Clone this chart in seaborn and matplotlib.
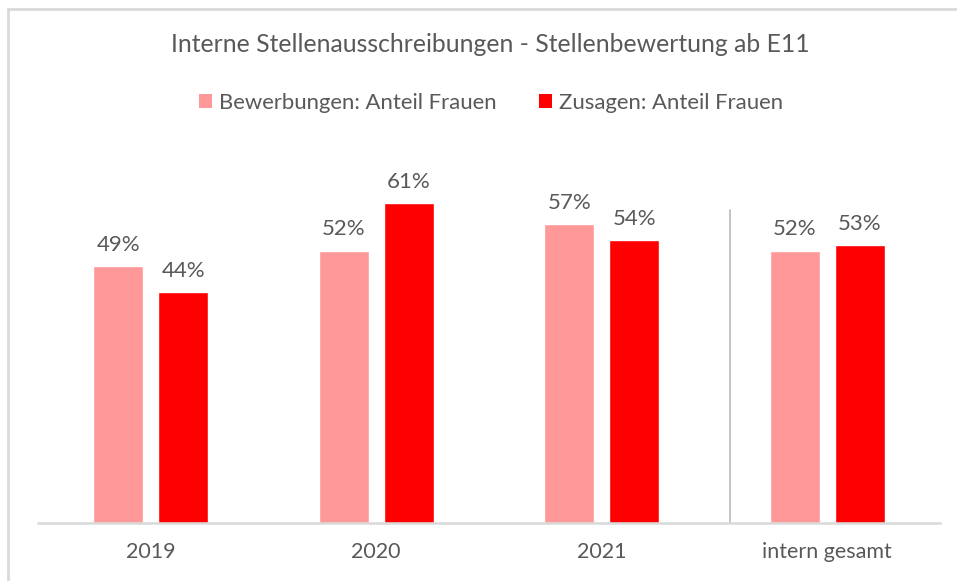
import matplotlib
matplotlib.use("Agg")
import matplotlib.pyplot as plt
from matplotlib.patches import Patch, Rectangle
import seaborn as sns
import pandas as pd

categories = ["2019", "2020", "2021", "intern gesamt"]
bewerbungen = [49, 52, 57, 52]
zusagen = [44, 61, 54, 53]
series_names = ["Bewerbungen: Anteil Frauen", "Zusagen: Anteil Frauen"]
title = "Interne Stellenausschreibungen - Stellenbewertung ab E11"

colors = ["#FF9999", "#FF0000"]
text_color = "#595959"

df = pd.DataFrame({
    "Kategorie": categories * 2,
    "Serie": [series_names[0]] * 4 + [series_names[1]] * 4,
    "Wert": bewerbungen + zusagen,
})

sns.set_style("white")
plt.rcParams["font.family"] = ["Lato", "DejaVu Sans"]

W, H = 957, 581
fig = plt.figure(figsize=(W / 100, H / 100), dpi=100)
ax_left, ax_right = 38 / W, 940 / W
ax_bottom = 1 - 523 / H
ax_top = 1 - (523 - 70 * 5.24) / H
ax = fig.add_axes([ax_left, ax_bottom, ax_right - ax_left, ax_top - ax_bottom])

sns.barplot(data=df, x="Kategorie", y="Wert", hue="Serie", palette=colors,
            width=0.576, gap=0.23, ax=ax, legend=False, saturation=1)

ax.set_xlim(-0.5, 3.5)
ax.set_ylim(0, 70)
ax.set_xlabel("")
ax.set_ylabel("")
ax.set_yticks([])
for s in ["top", "right", "left"]:
    ax.spines[s].set_visible(False)
ax.spines["bottom"].set_color("#d9d9d9")
ax.spines["bottom"].set_linewidth(1.8)
ax.tick_params(axis="x", length=0, pad=14, labelsize=15.5, labelcolor=text_color)

for cont in ax.containers:
    ax.bar_label(cont, fmt="%d%%", padding=8, fontsize=16, color=text_color)

# separator before "intern gesamt"
ax.plot([2.568, 2.568], [0, 59.7], color="#bfbfbf", linewidth=1.3, clip_on=False)

fig.text(0.512, 1 - 45 / H, title, ha="center", va="center",
         fontsize=17.8, color=text_color)

handles = [Patch(facecolor=c, edgecolor="none") for c in colors]
fig.legend(handles, series_names, loc="center", bbox_to_anchor=(0.513, 1 - 103 / H),
           ncol=2, frameon=False, fontsize=15.9, labelcolor=text_color,
           handlelength=0.6, handleheight=0.6, handletextpad=0.3, columnspacing=1.9)

# chart frame
fig.patches.append(Rectangle((8 / W, -0.1), 1.2, 1.1 - 9 / H, transform=fig.transFigure,
                             fill=False, edgecolor="#d9d9d9", linewidth=2, zorder=0))

fig.savefig("out.png", dpi=100)
